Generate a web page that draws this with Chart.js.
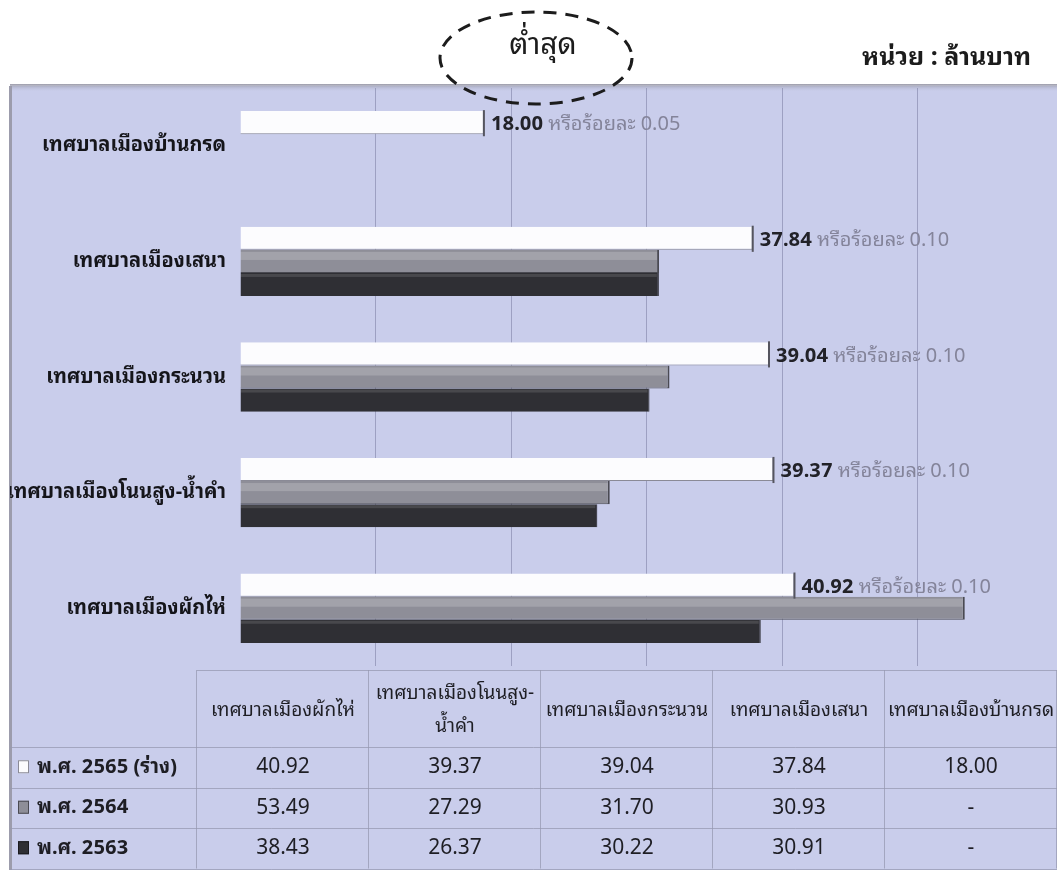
<!DOCTYPE html>
<html lang="th">
<head>
    <meta charset="UTF-8">
    <title>งบประมาณรายจ่าย เทศบาลเมือง</title>
    <script src="https://cdn.jsdelivr.net/npm/chart.js"></script>
    <style>
        body { margin: 0; background: #fff; }
        canvas { display: block; }
    </style>
</head>
<body>
    <canvas id="budgetChart" width="1057" height="878"></canvas>
    <script>
        // table order (left to right); the chart shows them bottom to top
        var municipalities = ['เทศบาลเมืองผักไห่', 'เทศบาลเมืองโนนสูง-น้ำคำ', 'เทศบาลเมืองกระนวน', 'เทศบาลเมืองเสนา', 'เทศบาลเมืองบ้านกรด'];
        var headerLines = [['เทศบาลเมืองผักไห่'], ['เทศบาลเมืองโนนสูง-', 'น้ำคำ'], ['เทศบาลเมืองกระนวน'], ['เทศบาลเมืองเสนา'], ['เทศบาลเมืองบ้านกรด']];
        var seriesNames = ['พ.ศ. 2565 (ร่าง)', 'พ.ศ. 2564', 'พ.ศ. 2563'];
        var budget2565 = [40.92, 39.37, 39.04, 37.84, 18.00];
        var budget2564 = [53.49, 27.29, 31.70, 30.93, null];
        var budget2563 = [38.43, 26.37, 30.22, 30.91, null];
        var percent2565 = ['0.10', '0.10', '0.10', '0.10', '0.05'];
        var xTicks = [0, 10, 20, 30, 40, 50, 60];

        var thaiFont = '"Noto Sans Thai Looped", Tahoma, "Noto Sans Thai", "Noto Sans", sans-serif';
        var rev = function(a) { return a.slice().reverse(); };

        var barFills = ['#fcfcfe', '#8e8e98', '#2f2f34'];
        var barEdges = ['#8a8a96', '#4a4a52', '#1a1a1e'];

        var backgroundPlugin = {
            id: 'background',
            beforeDraw: function(chart) {
                var c = chart.ctx;
                c.save();
                c.fillStyle = '#ffffff';
                c.fillRect(0, 0, chart.width, chart.height);
                c.fillStyle = '#c9cdeb';
                c.fillRect(10, 86, chart.width - 10, 784);
                // top and left frame
                var g = c.createLinearGradient(0, 84, 0, 92);
                g.addColorStop(0, '#9a9aa8');
                g.addColorStop(1, 'rgba(201,205,235,0)');
                c.fillStyle = g;
                c.fillRect(10, 84, chart.width - 10, 8);
                c.fillStyle = '#9c9cac';
                c.fillRect(9, 86, 3, 784);
                c.restore();
            }
        };

        var barShadePlugin = {
            id: 'barShade',
            afterDatasetsDraw: function(chart) {
                var c = chart.ctx;
                c.save();
                chart.data.datasets.forEach(function(ds, di) {
                    chart.getDatasetMeta(di).data.forEach(function(bar, i) {
                        if (ds.data[i] == null) return;
                        var p = bar.getProps(['x', 'y', 'base', 'height']);
                        var top = p.y - p.height / 2;
                        if (di === 1) {
                            c.fillStyle = 'rgba(255,255,255,0.18)';
                            c.fillRect(p.base, top + 2, p.x - p.base - 2, p.height * 0.35);
                        } else if (di === 2) {
                            c.fillStyle = 'rgba(255,255,255,0.12)';
                            c.fillRect(p.base, top + 1, p.x - p.base - 2, 3);
                        }
                    });
                });
                c.restore();
            }
        };

        var valueLabelPlugin = {
            id: 'valueLabels',
            afterDatasetsDraw: function(chart) {
                var c = chart.ctx;
                var chartData = chart.data.datasets[0].data;
                var pct = rev(percent2565);
                c.save();
                chart.getDatasetMeta(0).data.forEach(function(bar, i) {
                    var p = bar.getProps(['x', 'y', 'height']);
                    // end mark of the white bar
                    c.fillStyle = '#55555f';
                    c.fillRect(p.x - 1, p.y - p.height / 2 - 1, 2, p.height + 3);
                    c.textBaseline = 'middle';
                    c.textAlign = 'left';
                    var val = chartData[i].toFixed(2);
                    c.font = 'bold 20px ' + thaiFont;
                    c.fillStyle = '#222228';
                    c.fillText(val, p.x + 7, p.y + 2);
                    var w = c.measureText(val + ' ').width;
                    c.font = '20px ' + thaiFont;
                    c.fillStyle = '#84849a';
                    c.fillText('หรือร้อยละ ' + pct[i], p.x + 7 + w, p.y + 2);
                });
                c.restore();
            }
        };

        var tablePlugin = {
            id: 'dataTable',
            afterDraw: function(chart) {
                var c = chart.ctx;
                var left = 197, right = 1057, top = 670, headBottom = 747, rowH = 40.5;
                var colW = (right - left) / municipalities.length;
                var rows = [budget2565, budget2564, budget2563];
                var bottom = headBottom + rowH * rows.length;
                c.save();
                c.strokeStyle = 'rgba(150,152,178,0.75)';
                c.lineWidth = 1;
                c.beginPath();
                c.moveTo(left, top + 0.5); c.lineTo(right, top + 0.5);
                for (var r = 0; r <= rows.length; r++) {
                    var y = Math.round(headBottom + r * rowH) + 0.5;
                    c.moveTo(10, y); c.lineTo(right, y);
                }
                for (var k = 0; k <= municipalities.length; k++) {
                    var x = Math.round(left + k * colW) - 0.5;
                    c.moveTo(x, top); c.lineTo(x, bottom);
                }
                c.stroke();

                c.textAlign = 'center';
                c.textBaseline = 'middle';
                c.fillStyle = '#1e1e24';
                c.font = '19px ' + thaiFont;
                headerLines.forEach(function(lines, k) {
                    var cx = left + (k + 0.5) * colW;
                    var cy = (top + headBottom) / 2 + 2;
                    lines.forEach(function(t, j) {
                        c.fillText(t, cx, cy + (j - (lines.length - 1) / 2) * 33);
                    });
                });
                rows.forEach(function(vals, r) {
                    var cy = headBottom + (r + 0.5) * rowH;
                    c.font = '21px ' + thaiFont;
                    vals.forEach(function(v, k) {
                        c.fillText(v == null ? '-' : v.toFixed(2), left + (k + 0.5) * colW, cy);
                    });
                    // legend swatch
                    c.fillStyle = barFills[r];
                    c.fillRect(18, cy - 7, 11, 13);
                    c.strokeStyle = barEdges[r];
                    c.strokeRect(18.5, cy - 6.5, 10, 12);
                    c.textAlign = 'left';
                    c.fillStyle = '#1e1e24';
                    c.font = 'bold 20px ' + thaiFont;
                    c.fillText(seriesNames[r], 37, cy);
                    c.textAlign = 'center';
                });
                c.restore();
            }
        };

        var notesPlugin = {
            id: 'notes',
            afterDraw: function(chart) {
                var c = chart.ctx;
                c.save();
                c.strokeStyle = '#1c1c1c';
                c.lineWidth = 3;
                c.setLineDash([13, 9]);
                c.beginPath();
                c.ellipse(536, 58, 96, 46, 0, 0, Math.PI * 2);
                c.stroke();
                c.setLineDash([]);
                c.fillStyle = '#1c1c1c';
                c.textBaseline = 'middle';
                c.textAlign = 'center';
                c.font = '30px ' + thaiFont;
                c.fillText('ต่ำสุด', 543, 46);
                c.textAlign = 'left';
                c.font = 'bold 25px ' + thaiFont;
                c.fillText('หน่วย : ล้านบาท', 862, 58);
                c.restore();
            }
        };

        var ctx = document.getElementById('budgetChart').getContext('2d');
        var budgetChart = new Chart(ctx, {
            type: 'bar',
            data: {
                labels: rev(municipalities),
                datasets: [
                    { label: seriesNames[0], data: rev(budget2565), backgroundColor: barFills[0], borderColor: barEdges[0], borderWidth: { bottom: 1, right: 1 } },
                    { label: seriesNames[1], data: rev(budget2564), backgroundColor: barFills[1], borderColor: barEdges[1], borderWidth: { right: 2, bottom: 1 } },
                    { label: seriesNames[2], data: rev(budget2563), backgroundColor: barFills[2], borderColor: barEdges[2], borderWidth: { right: 1 } }
                ]
            },
            options: {
                indexAxis: 'y',
                responsive: false,
                animation: false,
                layout: { padding: { left: 10, top: 88, bottom: 212, right: 4 } },
                datasets: { bar: { categoryPercentage: 0.6, barPercentage: 1 } },
                plugins: { legend: { display: false }, tooltip: { enabled: false } },
                scales: {
                    x: {
                        min: xTicks[0],
                        max: xTicks[xTicks.length - 1],
                        afterBuildTicks: function(s) { s.ticks = xTicks.map(function(v) { return { value: v }; }); },
                        afterFit: function(s) { s.height = 0; },
                        ticks: { display: false },
                        grid: {
                            drawTicks: false,
                            color: function(g) {
                                var v = g.tick && g.tick.value;
                                return (v === 0 || v === 60) ? 'rgba(0,0,0,0)' : 'rgba(120,124,160,0.55)';
                            }
                        },
                        border: { display: false }
                    },
                    y: {
                        afterFit: function(s) { s.width = 230; },
                        grid: { display: false, drawTicks: false },
                        border: { display: false },
                        ticks: { color: '#15151a', padding: 14, font: { family: thaiFont, size: 20, weight: 'bold' } }
                    }
                }
            },
            plugins: [backgroundPlugin, barShadePlugin, valueLabelPlugin, tablePlugin, notesPlugin]
        });
    </script>
</body>
</html>
